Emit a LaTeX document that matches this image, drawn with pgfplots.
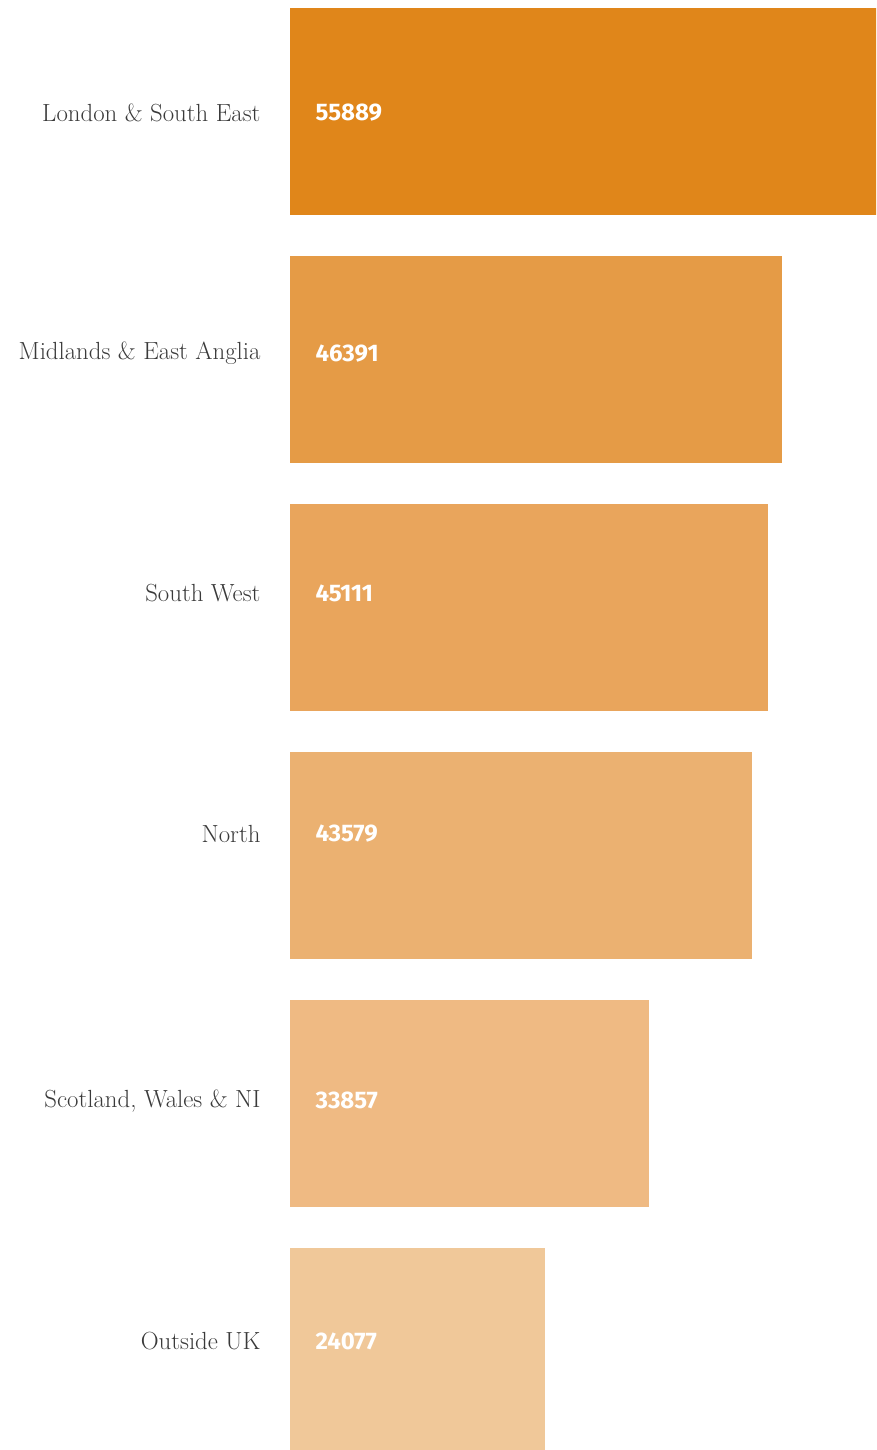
\documentclass[border=0pt]{standalone}
\usepackage{fontspec}
\usepackage{pgfplots}
\pgfplotsset{compat=1.18}
\newfontfamily\valfont{Fira Sans Bold}
\definecolor{c1}{HTML}{E0861A}
\definecolor{c2}{HTML}{E59B46}
\definecolor{c3}{HTML}{E9A55C}
\definecolor{c4}{HTML}{EBB171}
\definecolor{c5}{HTML}{EFBA83}
\definecolor{c6}{HTML}{F0C899}
\definecolor{lab}{HTML}{3A3A3A}
\begin{document}
\begin{tikzpicture}
\useasboundingbox (0,0) rectangle (876pt,1450pt);
\begin{axis}[
  at={(290pt,0pt)}, anchor=south west,
  scale only axis, width=586pt, height=1450pt,
  xbar, bar width=207pt, bar shift=0pt,
  xmin=0, xmax=55300,
  ymin=-0.395, ymax=5.4476,
  axis line style={draw=none},
  xtick=\empty,
  ytick={0.044,1.012,2.089,3.056,4.024,4.992},
  yticklabels={Outside UK, {Scotland, Wales \& NI}, North, South West, {Midlands \& East Anglia}, {London \& South East}},
  yticklabel style={font=\fontsize{24.8}{28}\selectfont, text=lab, anchor=east, xshift=-26pt},
  major tick length=0pt,
  clip=true,
]
\addplot[fill=c1, draw=none] coordinates {(55889,5)};
\addplot[fill=c2, draw=none] coordinates {(46391,4)};
\addplot[fill=c3, draw=none] coordinates {(45111,3)};
\addplot[fill=c4, draw=none] coordinates {(43579,2)};
\addplot[fill=c5, draw=none] coordinates {(33857,1)};
\addplot[fill=c6, draw=none] coordinates {(24077,0)};
\addplot[draw=none, fill=none, bar width=0pt, point meta=explicit symbolic,
  nodes near coords,
  every node near coord/.style={anchor=west, xshift=22pt, text=white, font=\valfont\fontsize{24}{27}\selectfont}]
  coordinates {(0,4.992)[55889] (0,4.024)[46391] (0,3.056)[45111] (0,2.089)[43579] (0,1.012)[33857] (0,0.044)[24077]};
\end{axis}
\end{tikzpicture}
\end{document}
